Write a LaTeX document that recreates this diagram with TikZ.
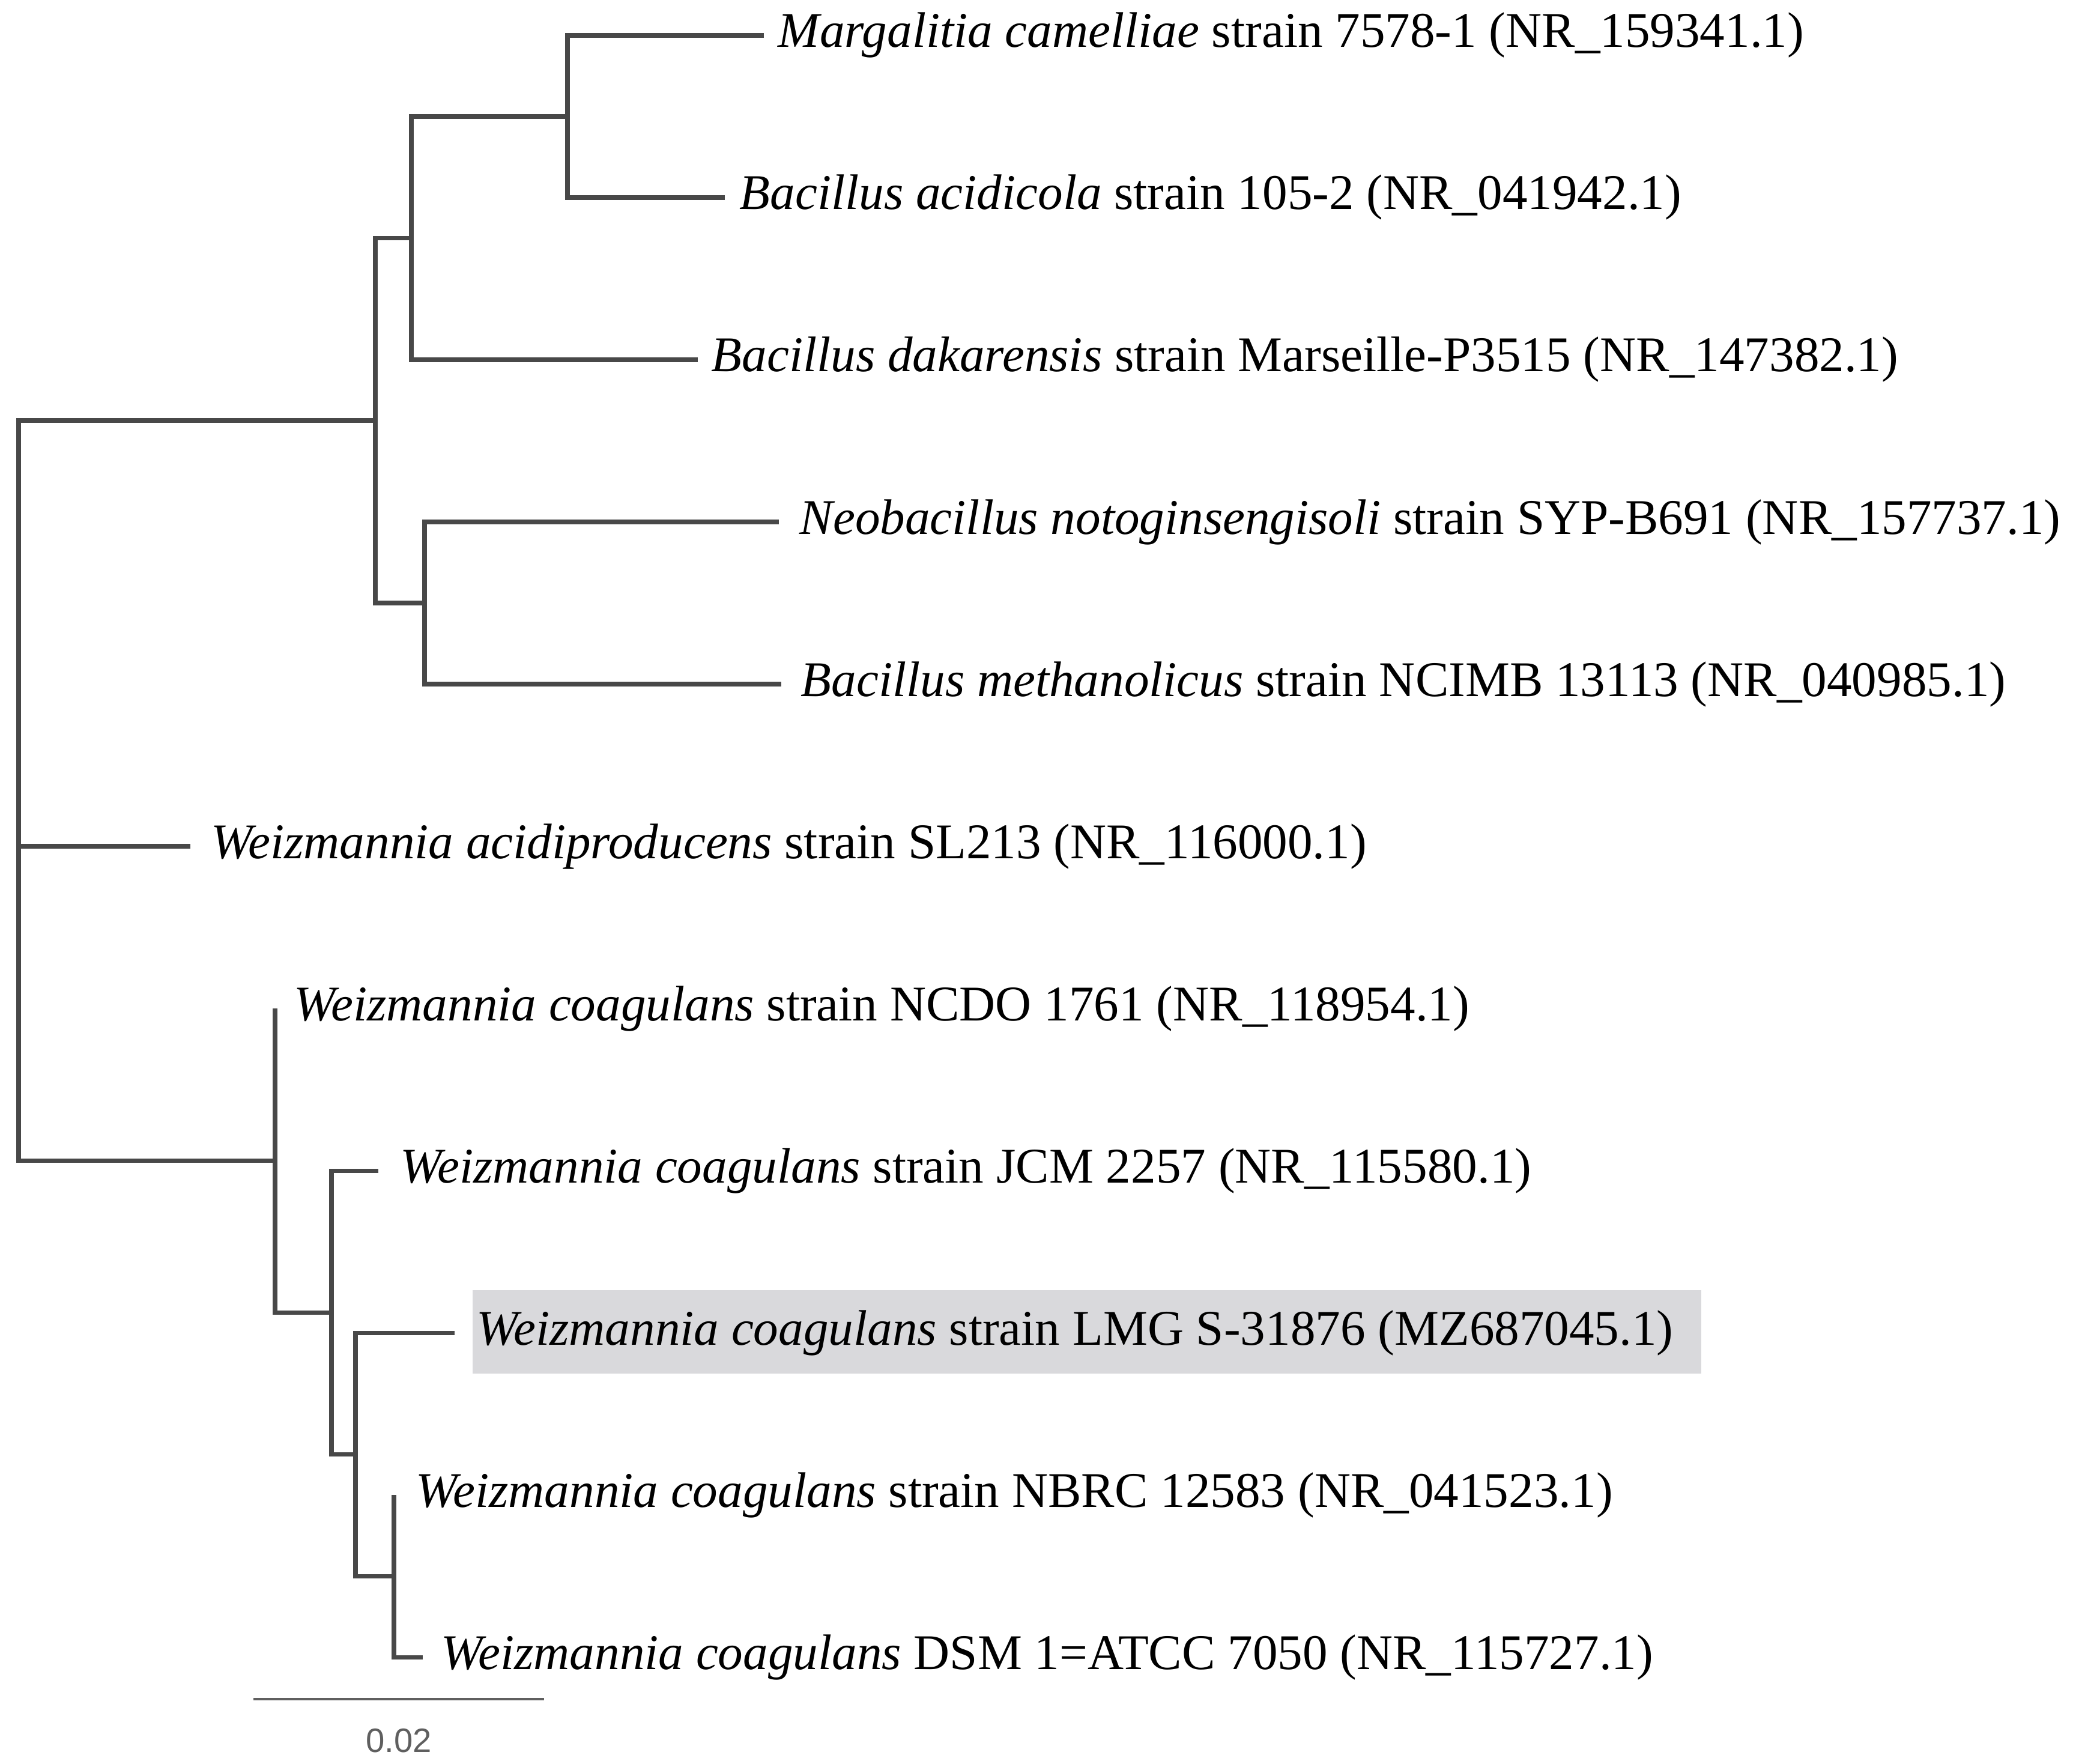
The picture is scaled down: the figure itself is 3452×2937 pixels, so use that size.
\documentclass[tikz,border=0pt]{standalone}
\usepackage{fontspec}
\setmainfont{Liberation Serif}
\setsansfont{Liberation Sans}
\definecolor{treegray}{RGB}{72,72,72}
\definecolor{hlgray}{RGB}{217,217,220}
\definecolor{bargray}{RGB}{95,95,95}
\begin{document}
\begin{tikzpicture}[x=0.01cm,y=-0.01cm,
  branch/.style={draw=treegray,line width=2pt,line join=miter},
  leaf/.style={anchor=west,inner xsep=0.3cm,inner ysep=0pt,font=\fontsize{23.65}{28}\selectfont},
  hlbox/.style={fill=hlgray,draw=none},
  scalebar/.style={draw=bargray,line width=1pt},
  scalelabel/.style={font=\sffamily\fontsize{16}{19}\selectfont,text=bargray,inner sep=0pt}]
\useasboundingbox (0,0) rectangle (3452,2937);
% highlight
\path[hlbox] (787,2148) rectangle (2833,2287);
% leaves
\node[leaf,inner xsep=0.23cm] (l1) at (1272,59) {\textit{Margalitia camelliae} strain 7578-1 (NR\_159341.1)};
\node[leaf,inner xsep=0.24cm] (l2) at (1207,329) {\textit{Bacillus acidicola} strain 105-2 (NR\_041942.1)};
\node[leaf,inner xsep=0.22cm] (l3) at (1162,599) {\textit{Bacillus dakarensis} strain Marseille-P3515 (NR\_147382.1)};
\node[leaf,inner xsep=0.34cm] (l4) at (1297,869) {\textit{Neobacillus notoginsengisoli} strain SYP-B691 (NR\_157737.1)};
\node[leaf,inner xsep=0.32cm] (l5) at (1301,1139) {\textit{Bacillus methanolicus} strain NCIMB 13113 (NR\_040985.1)};
\node[leaf,inner xsep=0.34cm] (l6) at (317,1409) {\textit{Weizmannia acidiproducens} strain SL213 (NR\_116000.1)};
\node[leaf,inner xsep=0.31cm] (l7) at (458,1679) {\textit{Weizmannia coagulans} strain NCDO 1761 (NR\_118954.1)};
\node[leaf,inner xsep=0.36cm] (l8) at (630,1949) {\textit{Weizmannia coagulans} strain JCM 2257 (NR\_115580.1)};
\node[leaf,inner xsep=0.36cm] (l9) at (757,2219) {\textit{Weizmannia coagulans} strain LMG S-31876 (MZ687045.1)};
\node[leaf,inner xsep=0.36cm] (l10) at (656,2489) {\textit{Weizmannia coagulans} strain NBRC 12583 (NR\_041523.1)};
\node[leaf,inner xsep=0.3cm] (l11) at (704,2759) {\textit{Weizmannia coagulans} DSM 1=ATCC 7050 (NR\_115727.1)};
% internal nodes
\coordinate (nC) at (945,194);
\coordinate (nB) at (685,396.5);
\coordinate (nD) at (707,1004);
\coordinate (nA) at (625,700);
\coordinate (nR) at (31,1409);
\coordinate (nH) at (656,2624);
\coordinate (nG) at (592,2421.5);
\coordinate (nF) at (552,2185);
\coordinate (nE) at (458,1932);
% branches
\draw[branch] (l1.west) -| (nC) |- (l2.west);
\draw[branch] (nC) -| (nB) |- (l3.west);
\draw[branch] (l4.west) -| (nD) |- (l5.west);
\draw[branch] (nB) -| (nA) |- (nD);
\draw[branch] (nA) -| (nR) |- (nE);
\draw[branch] (nR) -- (l6.west);
\draw[branch] (l10.west) -| (nH) |- (l11.west);
\draw[branch] (l9.west) -| (nG) |- (nH);
\draw[branch] (l8.west) -| (nF) |- (nG);
\draw[branch] (l7.west) -| (nE) |- (nF);
% scale bar
\coordinate (sb1) at (422,2829);
\coordinate (sb2) at (906,2829);
\draw[scalebar] (sb1) -- (sb2);
\node[scalelabel] (sbl) at (664,2898) {0.02};
\end{tikzpicture}
\end{document}
